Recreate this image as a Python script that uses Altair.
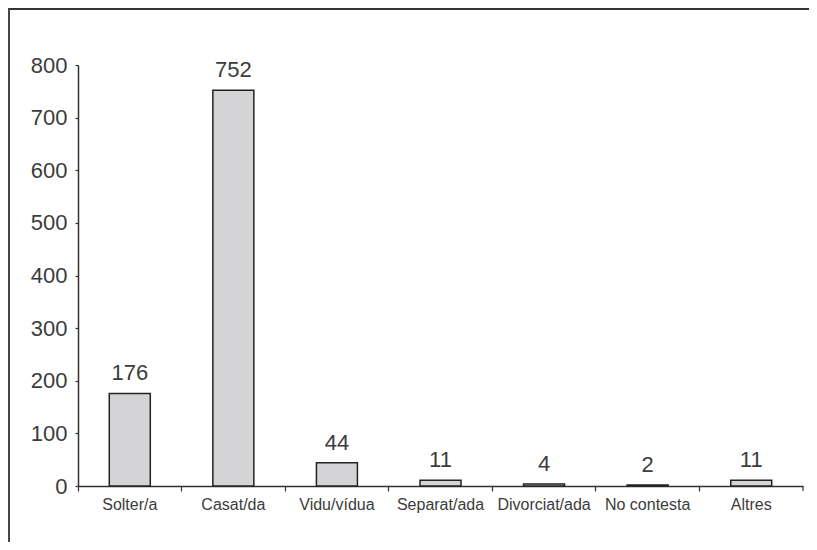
import altair as alt
import pandas as pd

categories = ["Solter/a", "Casat/da", "Vidu/vídua", "Separat/ada", "Divorciat/ada", "No contesta", "Altres"]
values = [176, 752, 44, 11, 4, 2, 11]
y_ticks = [0, 100, 200, 300, 400, 500, 600, 700, 800]

df = pd.DataFrame({"cat": categories, "val": values})

FONT = "Liberation Sans"
TXT = "#3c3c3c"
W, H = 725, 421

x = alt.X("cat:N", sort=categories, title=None,
          scale=alt.Scale(paddingInner=0, paddingOuter=0),
          axis=alt.Axis(labelAngle=0, labelFontSize=16, labelFont=FONT, labelColor=TXT,
                        bandPosition=0, tickSize=5, tickColor="#333", tickWidth=1.2,
                        domainColor="#333", domainWidth=1.5, labelPadding=5,
                        labelOverlap=False, labelLimit=0, grid=False))
y = alt.Y("val:Q", title=None,
          scale=alt.Scale(domain=[0, 800], nice=False),
          axis=alt.Axis(values=y_ticks, labelFontSize=22, labelFont=FONT, labelColor=TXT,
                        tickSize=3, tickColor="#333", tickWidth=1.2, domainColor="#333",
                        domainWidth=1.5, labelPadding=8, grid=False))

base = alt.Chart(df)
bars = base.mark_bar(size=41, fill="#d4d4d6", stroke="#222222", strokeWidth=1.5).encode(x=x, y=y)
labels = base.mark_text(dy=-8, baseline="bottom", fontSize=22, font=FONT, color=TXT).encode(
    x=alt.X("cat:N", sort=categories), y="val:Q", text="val:Q")

one = pd.DataFrame({"a": [0]})
end_tick = alt.Chart(one).mark_rule(color="#333", strokeWidth=1.2).encode(
    x=alt.value(W), x2=alt.value(W), y=alt.value(H), y2=alt.value(H + 5))
border = alt.Chart(one).mark_rect(fill="transparent", stroke="#333", strokeWidth=1.8).encode(
    x=alt.value(-69), x2=alt.value(W + 200), y=alt.value(-56), y2=alt.value(H + 200))

chart = alt.layer(bars, labels, end_tick, border).properties(
    width=W, height=H,
    autosize=alt.AutoSizeParams(type="none"),
    padding={"left": 70, "top": 57, "right": 6, "bottom": 56},
).configure_view(stroke=None)

chart.save("out.html", embed_options={"renderer": "svg", "actions": False})
